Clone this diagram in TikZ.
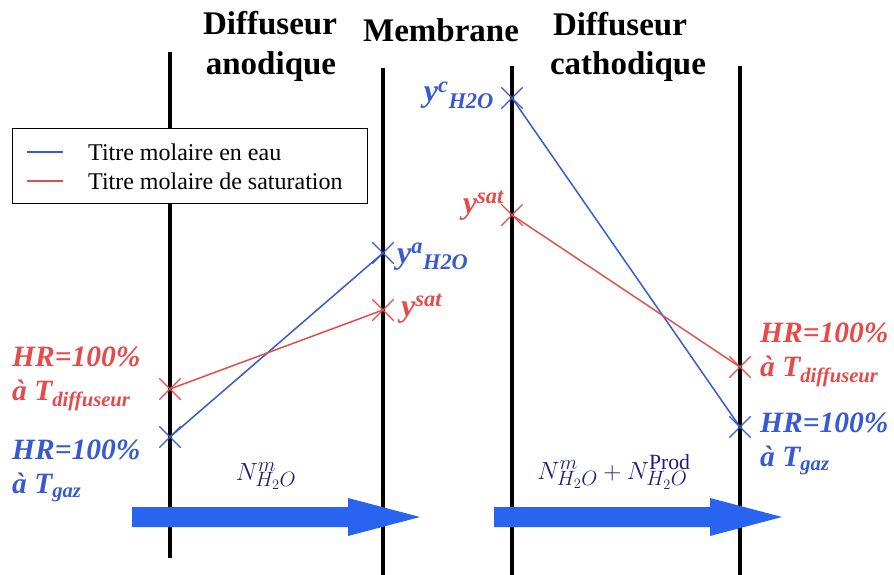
\documentclass[tikz,border=0pt]{standalone}
\usepackage{fontspec}
\setmainfont{Liberation Serif}
\usepackage{xcolor}
\usetikzlibrary{shapes.misc,positioning}

\definecolor{bleu}{RGB}{55,90,210}
\definecolor{rouge}{RGB}{228,75,75}
\definecolor{flux}{RGB}{40,100,240}
\definecolor{marine}{RGB}{30,30,120}

\begin{document}
\begin{tikzpicture}[x=1pt,y=-1pt,
      paroi/.style={line width=4.5pt},
      titre/.style={font=\fontsize{33}{35}\selectfont\bfseries,
                    inner sep=0pt,anchor=base},
      croix/.style={draw=#1,cross out,minimum size=20pt,
                    inner sep=0pt,line width=1.3pt},
      courbe/.style={draw=#1,line width=1.5pt},
      etiq/.style={font=\fontsize{29.5}{34}\selectfont\bfseries\itshape,
                   text=#1,align=left,inner sep=0pt,anchor=north west},
      titremol/.style={font=\fontsize{32}{34}\selectfont\bfseries\itshape,
                       text=#1,inner sep=0pt},
      legende/.style={draw,fill=white,line width=0.8pt,
                      minimum width=355pt,minimum height=75pt},
      legtexte/.style={font=\fontsize{24}{26}\selectfont,inner sep=0pt,
                       anchor=west},
      fluxlab/.style={font=\fontsize{31}{33}\selectfont,text=marine},
      fleche/.style={fill=flux},
    ]
    \useasboundingbox (0,0) rectangle (894,575);

    % titres
    \node[titre] (tda) at (270,35) {Diffuseur};
    \node[titre] (tan) at (271,75) {anodique};
    \node[titre] (tme) at (441,42) {Membrane};
    \node[titre] (tdc) at (620,36) {Diffuseur};
    \node[titre] (tca) at (628,75) {cathodique};

    % parois
    \coordinate (p1h) at (170,52);  \coordinate (p1b) at (170,558);
    \coordinate (p2h) at (383,68);  \coordinate (p2b) at (383,575);
    \coordinate (p3h) at (512,66);  \coordinate (p3b) at (512,575);
    \coordinate (p4h) at (740,66);  \coordinate (p4b) at (740,575);
    \draw[paroi] (p1h) -- (p1b);
    \draw[paroi] (p2h) -- (p2b);
    \draw[paroi] (p3h) -- (p3b);
    \draw[paroi] (p4h) -- (p4b);

    % legende
    \node[legende] (leg) at (189.5,165.5) {};
    \draw[bleu,line width=1.2pt] (27,152) -- (63,152);
    \draw[rouge,line width=1.2pt] (27,181) -- (63,181);
    \node[legtexte] (leau) at (88,152) {Titre molaire en eau};
    \node[legtexte] (lsat) at (88,181) {Titre molaire de saturation};

    % points
    \node[croix=rouge] (rg) at (170,389) {};
    \node[croix=bleu]  (bg) at (170,437) {};
    \node[croix=bleu]  (ba) at (383,253) {};
    \node[croix=rouge] (ra) at (383,310) {};
    \node[croix=bleu]  (bc) at (512,98)  {};
    \node[croix=rouge] (rc) at (512,215) {};
    \node[croix=rouge] (rd) at (740,367) {};
    \node[croix=bleu]  (bd) at (740,427) {};

    % profils
    \draw[courbe=bleu]  (bg.center) -- (ba.center);
    \draw[courbe=rouge] (rg.center) -- (ra.center);
    \draw[courbe=bleu]  (bc.center) -- (bd.center);
    \draw[courbe=rouge] (rc.center) -- (rd.center);

    % etiquettes des points
    \node[titremol=bleu,anchor=base west] (lya) at (397,263)
      {y\textsuperscript{a}\textsubscript{H2O}};
    \node[titremol=rouge,anchor=base west] (lsa) at (401,316)
      {y\textsuperscript{sat}};
    \node[titremol=bleu,anchor=base east] (lyc) at (494,102)
      {y\textsuperscript{c}\textsubscript{H2O}};
    \node[titremol=rouge,anchor=base east] (lsc) at (504,213)
      {y\textsuperscript{sat}};

    \node[etiq=rouge] (hrg) at (12,347)
      {HR=100\%\\à T\textsubscript{diffuseur}};
    \node[etiq=bleu] (hbg) at (12,440)
      {HR=100\%\\à T\textsubscript{gaz}};
    \node[etiq=rouge] (hrd) at (760,323)
      {HR=100\%\\à T\textsubscript{diffuseur}};
    \node[etiq=bleu] (hbd) at (760,413)
      {HR=100\%\\à T\textsubscript{gaz}};

    % flux
    \fill[fleche] (132,507) -- (348,507) -- (348,498) -- (420,517)
      -- (348,536) -- (348,527) -- (132,527) -- cycle;
    \fill[fleche] (494,507) -- (710,507) -- (710,498) -- (782,517)
      -- (710,536) -- (710,527) -- (494,527) -- cycle;
    \node[fluxlab] (na) at (266,476) {$N^{m}_{H_2O}$};
    \node[fluxlab] (nc) at (614,472)
      {$N^{m}_{H_2O}+N^{\mathrm{Prod}}_{H_2O}$};

  \end{tikzpicture}
\end{document}
